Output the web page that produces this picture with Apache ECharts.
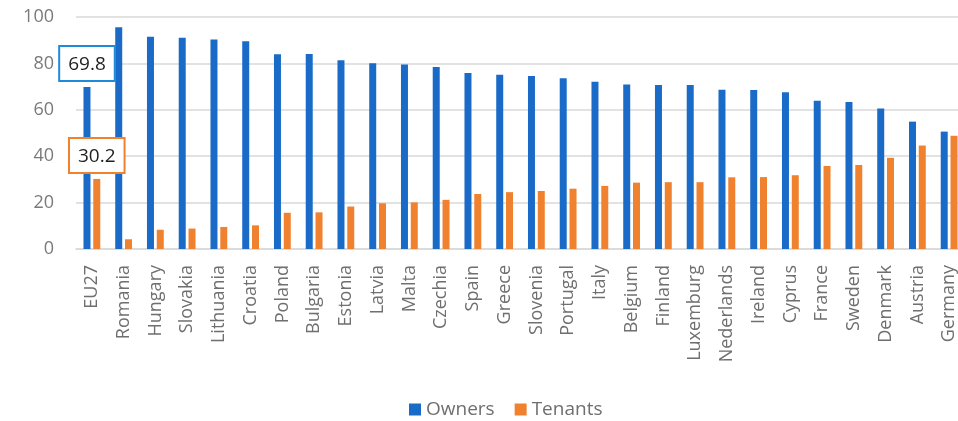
<!DOCTYPE html>
<html>
<head>
<meta charset="utf-8">
<title>Owners and tenants</title>
<script src="https://cdn.jsdelivr.net/npm/echarts@6/dist/echarts.min.js"></script>
<style>
  html, body { margin: 0; padding: 0; background: #ffffff; overflow: hidden; width: 958px; height: 421px; }
  /* the canvas is a little wider than the page so the last column is cut at the right edge */
  #chart { width: 966px; height: 421px; }
</style>
</head>
<body>
<div id="chart"></div>
<script>
// Share of population by tenure status (%)
const countries = ['EU27', 'Romania', 'Hungary', 'Slovakia', 'Lithuania', 'Croatia', 'Poland', 'Bulgaria',
  'Estonia', 'Latvia', 'Malta', 'Czechia', 'Spain', 'Greece', 'Slovenia', 'Portugal', 'Italy', 'Belgium',
  'Finland', 'Luxemburg', 'Nederlands', 'Ireland', 'Cyprus', 'France', 'Sweden', 'Denmark', 'Austria', 'Germany'];

const owners = [69.8, 95.6, 91.5, 91.1, 90.3, 89.6, 83.9, 84.0, 81.4, 80.1, 79.5, 78.4, 75.9, 75.1, 74.6, 73.6,
  72.1, 70.9, 70.7, 70.7, 68.6, 68.5, 67.6, 63.9, 63.4, 60.6, 54.9, 50.6];

const tenants = [30.2, 4.2, 8.3, 8.8, 9.5, 10.2, 15.6, 15.8, 18.3, 19.7, 20.1, 21.2, 23.7, 24.5, 25.0, 26.0,
  27.2, 28.6, 28.8, 28.8, 30.9, 31.0, 31.8, 35.8, 36.2, 39.3, 44.6, 48.8];

const yTicks = [0, 20, 40, 60, 80, 100];

const BLUE = '#1a6bc8';
const ORANGE = '#f0812f';
const FONT = '"Open Sans", "DejaVu Sans", sans-serif';

// Boxed value label shown on the EU27 bars only
function boxedLabel(color) {
  return {
    show: true,
    position: 'top',
    distance: 7,
    formatter: p => p.value.toFixed(1),
    fontFamily: FONT,
    fontSize: 19,
    color: '#1f1f1f',
    backgroundColor: '#ffffff',
    borderColor: color,
    borderWidth: 2,
    padding: [8, 8, 6, 8]
  };
}

const ownersData = owners.map((v, i) => i === 0 ? { value: v, label: boxedLabel('#1f8ad8') } : v);
const tenantsData = tenants.map((v, i) => i === 0 ? { value: v, label: boxedLabel(ORANGE) } : v);

const chart = echarts.init(document.getElementById('chart'), null, { renderer: 'canvas' });

chart.setOption({
  animation: false,
  backgroundColor: '#ffffff',
  textStyle: { fontFamily: FONT },
  grid: { left: 76, right: 1, top: 17, bottom: 172, containLabel: false },
  legend: {
    left: 404,
    top: 395,
    itemWidth: 12,
    itemHeight: 12,
    itemGap: 20,
    icon: 'rect',
    textStyle: { fontFamily: FONT, fontSize: 19, color: '#6f6f6f' },
    data: ['Owners', 'Tenants']
  },
  xAxis: {
    type: 'category',
    data: countries,
    axisLine: { lineStyle: { color: '#d9d9d9', width: 1.5 } },
    axisTick: { show: false },
    axisLabel: {
      rotate: 90,
      interval: 0,
      margin: 16,
      fontFamily: FONT,
      fontSize: 18,
      color: '#6f6f6f'
    }
  },
  yAxis: {
    type: 'value',
    min: 0,
    max: 100,
    interval: 20,
    axisLine: { show: false },
    axisTick: { show: false },
    splitLine: { lineStyle: { color: '#d9d9d9', width: 1.5 } },
    axisLabel: {
      margin: 22,
      fontFamily: FONT,
      fontSize: 18,
      color: '#7a7a7a',
      formatter: v => yTicks.includes(v) ? String(v) : ''
    }
  },
  series: [
    {
      name: 'Owners',
      type: 'bar',
      data: ownersData,
      barWidth: 7,
      barGap: '40%',
      itemStyle: { color: BLUE }
    },
    {
      name: 'Tenants',
      type: 'bar',
      data: tenantsData,
      barWidth: 7,
      itemStyle: { color: ORANGE }
    }
  ]
});
</script>
</body>
</html>
